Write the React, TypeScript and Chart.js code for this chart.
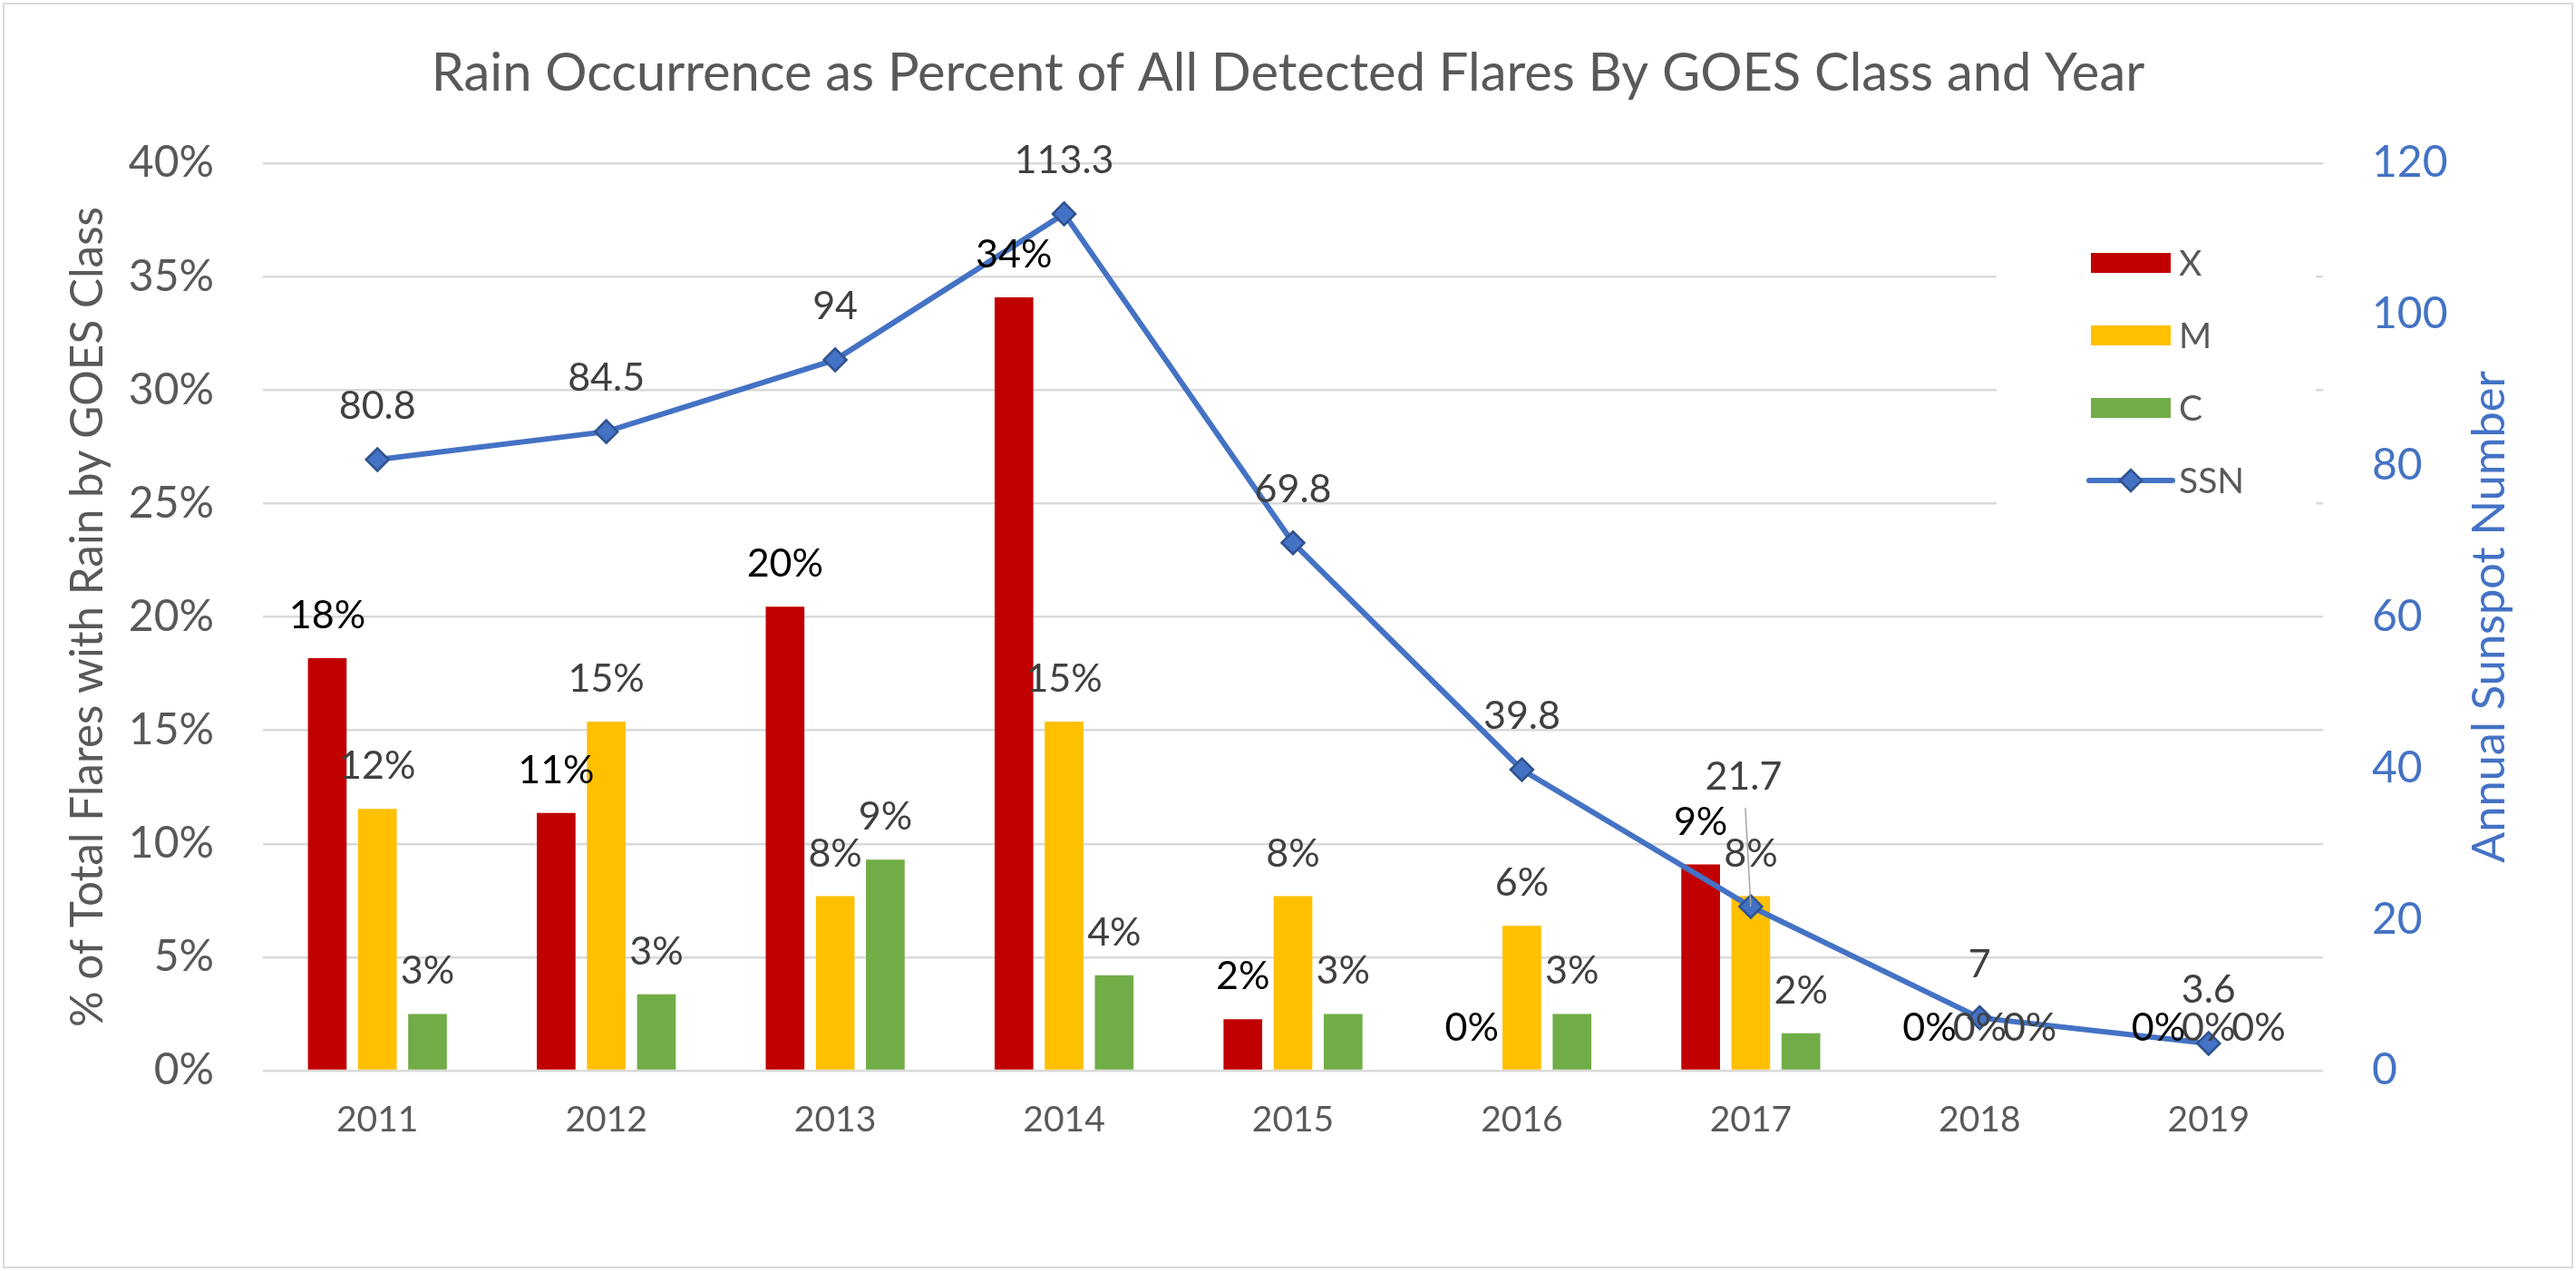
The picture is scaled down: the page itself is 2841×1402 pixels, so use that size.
import { useEffect, useRef } from 'react';
import { Chart, registerables } from 'chart.js';
import type { Plugin } from 'chart.js';

Chart.register(...registerables);

const years = ['2011', '2012', '2013', '2014', '2015', '2016', '2017', '2018', '2019'];
// % of detected flares that showed rain, per GOES class
const xClass = [18.18, 11.36, 20.45, 34.09, 2.27, 0, 9.09, 0, 0];
const mClass = [11.54, 15.38, 7.69, 15.38, 7.69, 6.38, 7.69, 0, 0];
const cClass = [2.5, 3.37, 9.3, 4.21, 2.5, 2.5, 1.65, 0, 0];
// annual sunspot number
const ssn = [80.8, 84.5, 94, 113.3, 69.8, 39.8, 21.7, 7, 3.6];

const pctAxis = { min: 0, max: 40, step: 5 };
const ssnAxis = { min: 0, max: 120, step: 20 };

const FONT = 'Lato, "Noto Sans", sans-serif';
const GRAY = '#595959';
const LABEL = '#404040';
const BLUE = '#4472C4';
const GRID = '#D9D9D9';

const TITLE = 'Rain Occurrence as Percent of All Detected Flares By GOES Class and Year';
const Y_TITLE = '% of Total Flares with Rain by GOES Class';
const Y1_TITLE = 'Annual Sunspot Number';

// the 2017 SSN label was dragged up in the original, with a leader line
const ssnLabelShift: Record<number, [number, number]> = { 6: [-8, -84] };

// pick a font size so the text spans the given length
function fitFont(ctx: CanvasRenderingContext2D, text: string, length: number) {
  ctx.font = `50px ${FONT}`;
  const w = ctx.measureText(text).width;
  ctx.font = `${(50 * length) / w}px ${FONT}`;
}

function diamond(ctx: CanvasRenderingContext2D, x: number, y: number, r: number) {
  ctx.beginPath();
  ctx.moveTo(x - r, y);
  ctx.lineTo(x, y - r);
  ctx.lineTo(x + r, y);
  ctx.lineTo(x, y + r);
  ctx.closePath();
  ctx.fillStyle = BLUE;
  ctx.fill();
  ctx.strokeStyle = '#2F528F';
  ctx.lineWidth = 2.5;
  ctx.stroke();
}

const decor: Plugin = {
  id: 'decor',
  beforeDraw(chart) {
    const { ctx, width, height, chartArea: a } = chart;
    ctx.save();
    ctx.fillStyle = '#fff';
    ctx.fillRect(0, 0, width, height);
    ctx.strokeStyle = GRID;
    ctx.lineWidth = 2;
    ctx.strokeRect(4, 4, width - 8, height - 8);

    ctx.textAlign = 'center';
    ctx.textBaseline = 'alphabetic';
    ctx.fillStyle = GRAY;
    fitFont(ctx, TITLE, 1890);
    ctx.fillText(TITLE, width / 2, 100);

    const midY = (a.top + a.bottom) / 2;
    fitFont(ctx, Y_TITLE, 905);
    ctx.save();
    ctx.translate(113, midY);
    ctx.rotate(-Math.PI / 2);
    ctx.fillText(Y_TITLE, 0, 0);
    ctx.restore();

    ctx.fillStyle = BLUE;
    fitFont(ctx, Y1_TITLE, 543);
    ctx.save();
    ctx.translate(a.right + 200, midY);
    ctx.rotate(-Math.PI / 2);
    ctx.fillText(Y1_TITLE, 0, 0);
    ctx.restore();
    ctx.restore();
  },
  beforeDatasetsDraw(chart) {
    // legend sits over the plot, on a white box that hides the grid
    const { ctx, chartArea: a } = chart;
    ctx.save();
    ctx.fillStyle = '#fff';
    ctx.fillRect(a.right - 360, a.top + 40, 352, 380);
    ctx.font = `39px ${FONT}`;
    ctx.textAlign = 'left';
    ctx.textBaseline = 'middle';
    chart.data.datasets.forEach((ds, i) => {
      const y = a.top + 110 + i * 80;
      const sx = a.right - 256;
      if (ds.type === 'line') {
        ctx.strokeStyle = BLUE;
        ctx.lineWidth = 6;
        ctx.lineCap = 'round';
        ctx.beginPath();
        ctx.moveTo(sx - 2, y);
        ctx.lineTo(sx + 90, y);
        ctx.stroke();
        diamond(ctx, sx + 44, y, 12);
      } else {
        ctx.fillStyle = ds.backgroundColor as string;
        ctx.fillRect(sx, y - 11, 88, 22);
      }
      ctx.fillStyle = GRAY;
      ctx.fillText(ds.label ?? '', a.right - 159, y + 1);
    });
    ctx.restore();
  },
  afterDatasetsDraw(chart) {
    const { ctx } = chart;
    ctx.save();
    ctx.textAlign = 'center';
    ctx.textBaseline = 'alphabetic';
    ctx.font = `43px ${FONT}`;
    chart.data.datasets.forEach((ds, i) => {
      const meta = chart.getDatasetMeta(i);
      meta.data.forEach((el, j) => {
        const v = ds.data[j] as number;
        if (ds.type === 'line') {
          const [dx, dy] = ssnLabelShift[j] ?? [0, 0];
          const lx = el.x + dx;
          const ly = el.y - 45 + dy;
          if (dy) {
            ctx.strokeStyle = '#A6A6A6';
            ctx.lineWidth = 1.5;
            ctx.beginPath();
            ctx.moveTo(lx + 2, ly + 20);
            ctx.lineTo(el.x, el.y);
            ctx.stroke();
          }
          ctx.fillStyle = LABEL;
          ctx.fillText(String(v), lx, ly);
        } else {
          ctx.fillStyle = i === 0 ? '#000' : LABEL;
          ctx.fillText(`${Math.round(v)}%`, el.x, el.y - 33);
        }
      });
    });
    ctx.restore();
  },
};

export default function App() {
  const canvasRef = useRef<HTMLCanvasElement>(null);

  useEffect(() => {
    document.body.style.margin = '0';
    document.body.style.overflow = 'hidden';
    const el = canvasRef.current;
    if (!el) return;

    const bar = (label: string, data: number[], color: string) => ({
      type: 'bar' as const,
      label,
      data,
      backgroundColor: color,
      yAxisID: 'y',
      order: 1,
      categoryPercentage: 0.657,
      barPercentage: 0.772,
    });

    const chart = new Chart(el, {
      type: 'bar',
      data: {
        labels: years,
        datasets: [
          bar('X', xClass, '#C00000'),
          bar('M', mClass, '#FFC000'),
          bar('C', cClass, '#70AD47'),
          {
            type: 'line' as const,
            label: 'SSN',
            data: ssn,
            yAxisID: 'y1',
            order: 0,
            borderColor: BLUE,
            borderWidth: 6,
            tension: 0,
            pointStyle: 'rectRot',
            pointRadius: 12.5,
            pointBackgroundColor: BLUE,
            pointBorderColor: '#2F528F',
            pointBorderWidth: 2.5,
          },
        ] as any,
      },
      options: {
        animation: false,
        responsive: false,
        devicePixelRatio: 1,
        layout: { padding: { top: 180, left: 0, right: 0, bottom: 0 } },
        plugins: {
          legend: { display: false },
          title: { display: false },
          tooltip: { enabled: false },
        },
        scales: {
          x: {
            grid: { display: false },
            border: { display: false },
            ticks: { color: GRAY, font: { family: FONT, size: 39 }, padding: 23 },
            afterFit: (s) => { s.height = 221; },
          },
          y: {
            position: 'left',
            min: pctAxis.min,
            max: pctAxis.max,
            grid: { color: GRID, lineWidth: 2.5, drawTicks: false },
            border: { display: false },
            ticks: {
              stepSize: pctAxis.step,
              color: GRAY,
              font: { family: FONT, size: 48 },
              padding: 54,
              callback: (v) => `${v}%`,
            },
            afterFit: (s) => { s.width = 290; },
          },
          y1: {
            position: 'right',
            min: ssnAxis.min,
            max: ssnAxis.max,
            grid: { display: false, drawTicks: false },
            border: { display: false },
            ticks: {
              stepSize: ssnAxis.step,
              color: BLUE,
              font: { family: FONT, size: 48 },
              padding: 54,
            },
            afterFit: (s) => { s.width = 279; },
          },
        },
      },
      plugins: [decor],
    });

    return () => chart.destroy();
  }, []);

  return (
    <canvas
      ref={canvasRef}
      width={2841}
      height={1402}
      style={{ display: 'block', width: 2841, height: 1402 }}
    />
  );
}
